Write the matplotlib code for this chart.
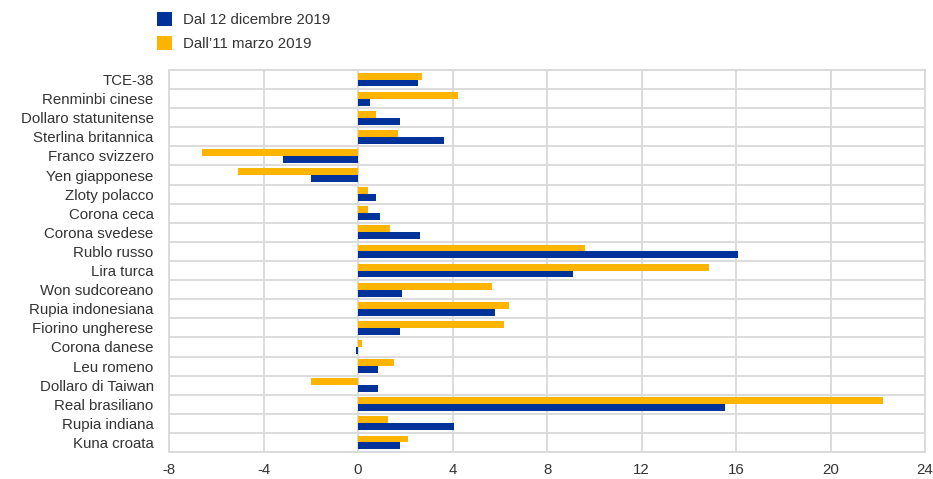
import matplotlib
matplotlib.use("Agg")
import matplotlib.pyplot as plt
from matplotlib.patches import Patch
from matplotlib.ticker import FixedLocator
import numpy as np

plt.rcParams['font.family'] = ['Liberation Sans', 'DejaVu Sans']

categories = ["TCE-38", "Renminbi cinese", "Dollaro statunitense", "Sterlina britannica",
              "Franco svizzero", "Yen giapponese", "Zloty polacco", "Corona ceca",
              "Corona svedese", "Rublo russo", "Lira turca", "Won sudcoreano",
              "Rupia indonesiana", "Fiorino ungherese", "Corona danese", "Leu romeno",
              "Dollaro di Taiwan", "Real brasiliano", "Rupia indiana", "Kuna croata"]
dal_12_dic = [2.56, 0.50, 1.79, 3.65, -3.16, -1.98, 0.77, 0.92, 2.63, 16.1,
              9.08, 1.86, 5.79, 1.79, -0.08, 0.85, 0.85, 15.52, 4.08, 1.79]
dal_11_mar = [2.73, 4.25, 0.77, 1.71, -6.62, -5.09, 0.43, 0.43, 1.35, 9.6,
              14.84, 5.67, 6.38, 6.2, 0.17, 1.52, -1.98, 22.23, 1.28, 2.12]
series_labels = ["Dal 12 dicembre 2019", "Dall\u201911 marzo 2019"]
x_ticks = [-8, -4, 0, 4, 8, 12, 16, 20, 24]

blue = "#003299"
yellow = "#FFB400"
grid = "#d9d9d9"
fs = 10.8

fig = plt.figure(figsize=(9.33, 4.79), dpi=100)
ax = fig.add_axes([169/933, 1-452/479, (925-169)/933, (452-70)/479])

y = np.arange(len(categories))
h = 0.36
ax.barh(y - h/2, dal_11_mar, height=h, color=yellow, zorder=3)
ax.barh(y + h/2, dal_12_dic, height=h, color=blue, zorder=3)

ax.set_xlim(x_ticks[0], x_ticks[-1])
ax.set_xticks(x_ticks)
ax.set_xticklabels([str(t) for t in x_ticks])
ax.set_ylim(len(categories) - 0.5, -0.5)
ax.set_yticks(y)
ax.set_yticklabels(categories)
ax.yaxis.set_minor_locator(FixedLocator(np.arange(len(categories) + 1) - 0.5))

ax.grid(axis='x', which='major', color=grid, linewidth=1.3, zorder=0)
ax.grid(axis='y', which='minor', color=grid, linewidth=1.3, zorder=0)
ax.tick_params(axis='both', which='both', length=0, labelsize=fs, colors="#333333")
ax.tick_params(axis='y', pad=11)
ax.tick_params(axis='x', pad=8)
for s in ax.spines.values():
    s.set_color(grid)
    s.set_linewidth(1.3)

handles = [Patch(facecolor=blue, edgecolor='none'), Patch(facecolor=yellow, edgecolor='none')]
fig.legend(handles, series_labels, loc='upper left', bbox_to_anchor=(143/933, 1/479 + 1),
           frameon=False, fontsize=fs, handlelength=1.0, handleheight=1.0,
           handletextpad=0.75, labelspacing=0.6, labelcolor="#333333")

fig.savefig("out.png", dpi=100)
